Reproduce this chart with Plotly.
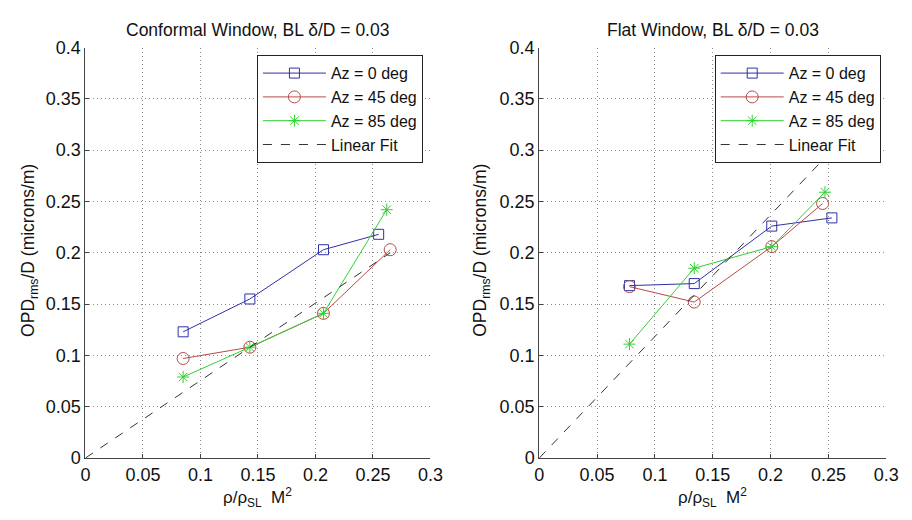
import plotly.graph_objects as go

# --- data -----------------------------------------------------------------
# Conformal window
conf_az0_x = [0.085, 0.143, 0.207, 0.255]
conf_az0_y = [0.123, 0.155, 0.203, 0.218]
conf_az45_x = [0.085, 0.143, 0.207, 0.265]
conf_az45_y = [0.097, 0.108, 0.141, 0.203]
conf_az85_x = [0.085, 0.143, 0.207, 0.262]
conf_az85_y = [0.079, 0.108, 0.141, 0.242]
conf_fit_x = [0.0, 0.265]
conf_fit_y = [0.0, 0.200]

# Flat window
flat_az0_x = [0.078, 0.134, 0.201, 0.253]
flat_az0_y = [0.168, 0.170, 0.226, 0.234]
flat_az45_x = [0.078, 0.134, 0.201, 0.245]
flat_az45_y = [0.167, 0.152, 0.206, 0.248]
flat_az85_x = [0.078, 0.134, 0.201, 0.247]
flat_az85_y = [0.111, 0.185, 0.206, 0.259]
flat_fit_x = [0.0, 0.249]
flat_fit_y = [0.0, 0.295]

series_names = ["Az = 0 deg", "Az = 45 deg", "Az = 85 deg", "Linear Fit"]
x_ticks = [0, 0.05, 0.1, 0.15, 0.2, 0.25, 0.3]
x_tick_text = ["0", "0.05", "0.1", "0.15", "0.2", "0.25", "0.3"]
y_ticks = [0, 0.05, 0.1, 0.15, 0.2, 0.25, 0.3, 0.35, 0.4]
y_tick_text = ["0", "0.05", "0.1", "0.15", "0.2", "0.25", "0.3", "0.35", "0.4"]
titles = ["Conformal Window, BL δ/D = 0.03", "Flat Window, BL δ/D = 0.03"]

# --- styling --------------------------------------------------------------
FONT = "Liberation Sans, Arial, sans-serif"
TXT = "#111111"
BLUE = "#3030a8"
RED = "#b84a4a"
GREEN = "#33d033"

styles = [
    dict(color=BLUE, symbol="square-open", size=10),
    dict(color=RED, symbol="circle-open", size=12),
    dict(color=GREEN, symbol="asterisk-open", size=10),
]

fig = go.Figure()

panels = [
    ("x", "y", "legend",
     [(conf_az0_x, conf_az0_y), (conf_az45_x, conf_az45_y), (conf_az85_x, conf_az85_y)],
     (conf_fit_x, conf_fit_y)),
    ("x2", "y2", "legend2",
     [(flat_az0_x, flat_az0_y), (flat_az45_x, flat_az45_y), (flat_az85_x, flat_az85_y)],
     (flat_fit_x, flat_fit_y)),
]

for xa, ya, leg, series, fit in panels:
    for (sx, sy), name, st in zip(series, series_names[:3], styles):
        fig.add_trace(go.Scatter(
            x=sx, y=sy, name=name, mode="lines+markers",
            xaxis=xa, yaxis=ya, legend=leg,
            line=dict(color=st["color"], width=1),
            marker=dict(symbol=st["symbol"], size=st["size"],
                        color=st["color"], line=dict(color=st["color"], width=1)),
        ))
    fig.add_trace(go.Scatter(
        x=fit[0], y=fit[1], name=series_names[3], mode="lines",
        xaxis=xa, yaxis=ya, legend=leg,
        line=dict(color="#333333", width=1, dash="dash"),
    ))

W, H = 912, 520
left_px = [(82, 434), (545, 899)]
top_px, bot_px = 39, 466
ydom = [1 - bot_px / H, 1 - top_px / H]

axis_common = dict(
    showline=True, linecolor="#444444", linewidth=1,
    showgrid=True, gridcolor="#8c8c8c", griddash="1px,3px", gridwidth=1,
    ticks="inside", ticklen=4, tickcolor="#444444",
    zeroline=False, mirror=False,
    tickfont=dict(family=FONT, size=18, color=TXT),
)

legend_common = dict(
    xanchor="left", yanchor="top",
    bgcolor="white", bordercolor="#222222", borderwidth=1,
    font=dict(family=FONT, size=16, color=TXT),
    tracegroupgap=0, itemwidth=63,
)

fig.update_layout(
    width=W, height=H,
    margin=dict(l=0, r=0, t=0, b=0),
    paper_bgcolor="white", plot_bgcolor="white",
    font=dict(family=FONT, size=17, color=TXT),
    xaxis=dict(domain=[left_px[0][0] / W, left_px[0][1] / W], range=[0, 0.3],
               tickvals=x_ticks, ticktext=x_tick_text, anchor="y", **axis_common),
    yaxis=dict(domain=ydom, range=[0, 0.4],
               tickvals=y_ticks, ticktext=y_tick_text, anchor="x", **axis_common),
    xaxis2=dict(domain=[left_px[1][0] / W, left_px[1][1] / W], range=[0, 0.3],
                tickvals=x_ticks, ticktext=x_tick_text, anchor="y2", **axis_common),
    yaxis2=dict(domain=ydom, range=[0, 0.4],
                tickvals=y_ticks, ticktext=y_tick_text, anchor="x2", **axis_common),
    legend=dict(x=257 / W, y=1 - 47 / H, **legend_common),
    legend2=dict(x=724 / W, y=1 - 47 / H, **legend_common),
    showlegend=True,
)

annotations = []
for (l, r), title, ylab_x in zip(left_px, titles, [25, 486]):
    cx = (l + r) / 2
    annotations.append(dict(text=title, x=cx / W, y=1 - 21 / H, xref="paper", yref="paper",
                            showarrow=False, xanchor="center", yanchor="middle",
                            font=dict(family=FONT, size=17.5, color=TXT)))
    annotations.append(dict(text="ρ/ρ<sub>SL</sub>  M<sup>2</sup>", x=cx / W, y=1 - 507 / H,
                            xref="paper", yref="paper", showarrow=False,
                            xanchor="center", yanchor="middle",
                            font=dict(family=FONT, size=17, color=TXT)))
    annotations.append(dict(text="OPD<sub>rms</sub>/D (microns/m)", x=ylab_x / W,
                            y=1 - 250 / H, xref="paper", yref="paper", showarrow=False,
                            textangle=-90, xanchor="center", yanchor="middle",
                            font=dict(family=FONT, size=17.5, color=TXT)))
fig.update_layout(annotations=annotations)

fig.write_html("out.html", config={"displayModeBar": False})
